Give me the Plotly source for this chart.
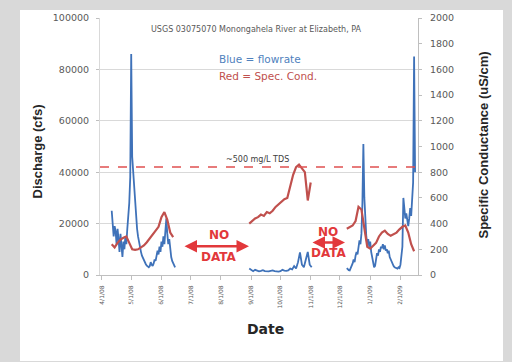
import pandas as pd
import plotly.graph_objects as go

# ---------------- data ----------------
flow_seg_starts = ["2008-04-11", "2008-08-30", "2008-12-08"]
flow_steps = ["1D", "2D", "1D"]
flow_seg1 = [25000, 21000, 15000, 19000, 17000, 12000, 18000, 14000, 9000, 16000,
             11000, 7000, 13000, 10000, 15000, 12000, 18000, 22000, 28000, 38000,
             86000, 46000, 40000, 33000, 27000, 22000, 18000, 15000, 12500, 10500,
             9000, 7500, 6500, 5500, 4800, 4200, 3600, 3200, 3000, 3500,
             5000, 4000, 3500, 4500, 6000, 5500, 7000, 9500, 8000, 11000,
             9000, 13000, 11000, 15000, 12000, 18000, 22000, 16000, 12000, 14000,
             9000, 7000, 5500, 4500, 3500, 3000]
flow_seg2 = [2500, 1800, 1500, 2000, 1700, 1400, 1600, 1900, 1500, 1300,
             1400, 1600, 1800, 1500, 1400, 1300, 1500, 2000, 1700, 1600,
             1800, 2500, 2200, 3500, 2500, 5000, 8800, 4000, 3000, 6000,
             9000, 4000, 3000]
flow_seg3 = [2700, 2200, 1900, 1800, 2500, 3500, 4500, 6000, 5000, 7500,
             9000, 8000, 11000, 13500, 12000, 16000, 28000, 51000, 30000, 20000,
             15000, 12000, 14000, 11000, 13000, 9000, 7000, 4500, 3000, 3500,
             6000, 8500, 7500, 10000, 9000, 11000, 10500, 12000, 10000, 11500,
             9500, 10000, 8500, 9500, 7000, 6000, 5000, 4000, 3500, 3000,
             2800, 2600, 2500, 3000, 2700, 4000, 7000, 11000, 30000, 26000,
             22000, 24000, 20000, 19000, 22000, 26000, 23000, 30000, 36000, 85000,
             40000]

cond_seg_starts = ["2008-04-11", "2008-08-30", "2008-12-08"]
cond_step = "3D"
cond_seg1 = [240, 215, 250, 275, 290, 300, 250, 200, 195, 200, 215, 230,
             255, 285, 310, 340, 375, 450, 490, 430, 330, 295]
cond_seg2 = [400, 420, 440, 450, 470, 460, 490, 480, 500, 530, 550, 570,
             590, 600, 690, 780, 840, 860, 830, 800, 580, 720]
cond_seg3 = [360, 370, 385, 420, 530, 510, 380, 220, 205, 225, 250, 300,
             330, 345, 320, 305, 320, 330, 355, 375, 385, 330, 240, 185]

tds_level_cfs = 42000
tick_dates = ["2008-04-01", "2008-05-01", "2008-06-01", "2008-07-01", "2008-08-01",
              "2008-09-01", "2008-10-01", "2008-11-01", "2008-12-01", "2009-01-01",
              "2009-02-01"]
tick_labels = ["4/1/08", "5/1/08", "6/1/08", "7/1/08", "8/1/08", "9/1/08",
               "10/1/08", "11/1/08", "12/1/08", "1/1/09", "2/1/09"]
x_range = ["2008-03-30", "2009-02-19"]

title_text = "USGS 03075070 Monongahela River at Elizabeth, PA"

# ---------------- figure ----------------
BLUE = "#3f72b9"
RED = "#c0504d"
ARED = "#e2383b"
FONT = "DejaVu Sans"
W, H = 512, 362
L, R, T, B = 100, 94, 15, 87
pw, ph = W - L - R, H - T - B


def px(x):
    return (x - L) / pw


def py(y):
    return (H - B - y) / ph


fig = go.Figure()

for start, step, vals in zip(flow_seg_starts, flow_steps, [flow_seg1, flow_seg2, flow_seg3]):
    d = pd.date_range(start, periods=len(vals), freq=step)
    fig.add_trace(go.Scatter(x=d, y=vals, mode="lines", showlegend=False,
                             line=dict(color=BLUE, width=1.8), yaxis="y"))

for start, vals in zip(cond_seg_starts, [cond_seg1, cond_seg2, cond_seg3]):
    d = pd.date_range(start, periods=len(vals), freq=cond_step)
    fig.add_trace(go.Scatter(x=d, y=vals, mode="lines", showlegend=False,
                             line=dict(color=RED, width=2.2), yaxis="y2"))

tick_font = dict(family=FONT, size=9.5, color="#595959")

fig.update_layout(
    width=W, height=H,
    margin=dict(l=L, r=R, t=T, b=B),
    paper_bgcolor="#d9d9d9",
    plot_bgcolor="white",
    font=dict(family=FONT),
    xaxis=dict(type="date", range=x_range, tickvals=tick_dates, ticktext=tick_labels,
               tickangle=-90, tickfont=dict(family=FONT, size=6, color="#595959"),
               showgrid=False, showline=True, linecolor="#bfbfbf", linewidth=1,
               ticks="outside", ticklen=4, tickcolor="#bfbfbf", zeroline=False,
               ticklabelstandoff=3),
    yaxis=dict(range=[0, 100000], dtick=20000, tickformat="d", tickfont=tick_font,
               showgrid=True, gridcolor="#d9d9d9", gridwidth=1, zeroline=False,
               showline=True, linecolor="#d9d9d9", ticks="outside", ticklen=3,
               tickcolor="#bfbfbf", ticklabelstandoff=5),
    yaxis2=dict(range=[0, 2000], dtick=200, overlaying="y", side="right",
                tickfont=tick_font, showgrid=False, zeroline=False,
                showline=True, linecolor="#bfbfbf", ticks="outside", ticklen=3,
                tickcolor="#bfbfbf", ticklabelstandoff=6),
)

shapes = [
    dict(type="rect", xref="paper", yref="paper", x0=px(20), x1=px(503),
         y0=py(362), y1=py(7), fillcolor="white", line=dict(width=0), layer="below"),
    dict(type="rect", xref="paper", yref="paper", x0=px(212), x1=px(354),
         y0=py(90), y1=py(45), fillcolor="white", line=dict(width=0), layer="between"),
    dict(type="line", xref="paper", yref="y", x0=0, x1=1, y0=tds_level_cfs, y1=tds_level_cfs,
         line=dict(color="#e05050", width=1.5, dash="dash")),
]
fig.update_layout(shapes=shapes)

ann = []


def text(x, y, s, size, color, bold=False, xanchor="center", angle=0, family=FONT):
    ann.append(dict(xref="paper", yref="paper", x=px(x), y=py(y), text=(f"<b>{s}</b>" if bold else s),
                    showarrow=False, xanchor=xanchor, yanchor="middle", textangle=angle,
                    font=dict(size=size, color=color, family=family)))


text(256, 27, title_text, 8, "#595959")
text(217, 56, "Blue = flowrate", 10.5, "#4f81bd", xanchor="left")
text(217, 74, "Red = Spec. Cond.", 10.5, "#c0504d", xanchor="left")
text(257, 158, "~500 mg/L TDS", 8, "#404040")
text(37, 150, "Discharge (cfs)", 13, "#262626", bold=True, angle=-90, family="Liberation Sans")
text(484, 144, "Specific Conductance (uS/cm)", 13, "#262626", bold=True, angle=-90,
     family="Liberation Sans")
text(265, 330, "Date", 14, "#262626", bold=True)
text(219, 235, "NO", 12, ARED, bold=True)
text(219, 257, "DATA", 12, ARED, bold=True)
text(328, 232, "NO", 12, ARED, bold=True)
text(329, 253, "DATA", 12, ARED, bold=True)

for (x0, x1, y) in [(183, 249, 246), (311, 345, 242)]:
    ann.append(dict(xref="paper", yref="paper", x=px(x1), y=py(y), ax=x0 - x1, ay=0,
                    text="", showarrow=True, arrowhead=2, arrowside="end+start",
                    arrowsize=1, arrowwidth=2.5, arrowcolor=ARED, standoff=0, startstandoff=0))

fig.update_layout(annotations=ann)

fig.write_html("out.html", config={"displayModeBar": False},
               post_script="document.body.style.margin='0';document.body.style.overflow='hidden';")
